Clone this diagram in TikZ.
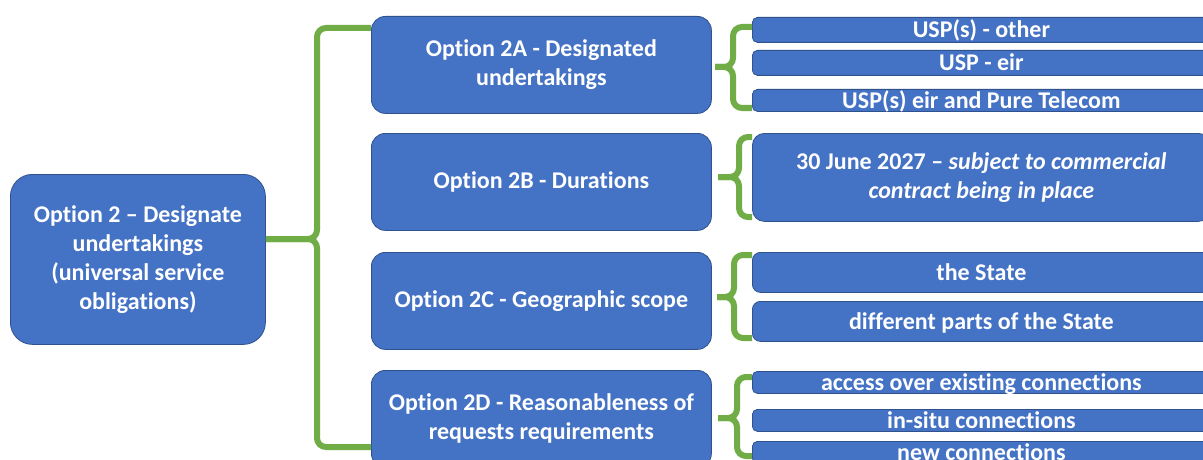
\documentclass[tikz,border=0pt]{standalone}
\usepackage{fontspec}
\setmainfont{Carlito}[Ligatures=NoCommon]
\usetikzlibrary{calc}
\definecolor{boxblue}{HTML}{4472C4}
\definecolor{boxedge}{HTML}{2F528F}
\definecolor{bracegreen}{HTML}{70AD47}
\begin{document}
\begin{tikzpicture}[x=1pt,y=-1pt,
  base/.style={fill=boxblue,draw=boxedge,line width=0.8pt,text=white,
    font=\bfseries\fontsize{24}{29}\selectfont,align=center,inner sep=0pt,anchor=north west},
  mainbox/.style={base,rounded corners=22pt},
  optbox/.style={base,rounded corners=14pt,minimum width=340pt,minimum height=97pt},
  itembox/.style={base,rounded corners=5pt,minimum width=458pt,text height=19pt,text depth=3pt},
  brace/.style={draw=bracegreen,line width=6pt,rounded corners=9pt}]
\clip (0,0) rectangle (1203,460);
\fill[white] (0,0) rectangle (1203,460);

% main box
\node[mainbox,minimum width=255pt,minimum height=170pt] (main) at (10,174)
  {Option 2 – Designate\\undertakings\\(universal service\\obligations)};

% option boxes
\node[optbox] (o2a) at (371,16) {Option 2A - Designated\\undertakings};
\node[optbox] (o2b) at (371,133) {Option 2B - Durations};
\node[optbox] (o2c) at (371,252) {Option 2C - Geographic scope};
\node[optbox] (o2d) at (371,370) {Option 2D - Reasonableness of\\requests requirements};

% item boxes
\node[itembox,minimum height=25pt] (i1) at (752,17) {USP(s) - other};
\node[itembox,minimum height=25pt] (i2) at (752,50) {USP - eir};
\node[itembox,minimum height=22pt] (i3) at (752,89) {USP(s) eir and Pure Telecom};
\node[base,rounded corners=12pt,minimum width=458pt,minimum height=88pt] (i4) at (752,133)
  {30 June 2027 – \textit{subject to commercial}\\\textit{contract being in place}};
\node[itembox,rounded corners=8pt,minimum height=40pt] (i5) at (752,252) {the State};
\node[itembox,rounded corners=8pt,minimum height=40pt] (i6) at (752,301) {different parts of the State};
\node[itembox,minimum height=22pt] (i7) at (752,371) {access over existing connections};
\node[itembox,minimum height=22pt] (i8) at (752,409) {in-situ connections};
\node[itembox,minimum height=22pt] (i9) at (752,441) {new connections};

% big brace
\coordinate (Bc) at (317,239);
\coordinate (Bt) at (371,28);
\coordinate (Bb) at (371,447);
\draw[brace] (main.east |- Bc) -- (Bc) |- (Bt);
\draw[brace] (main.east |- Bc) -- (Bc) |- (Bb);

% brace 2A
\coordinate (At) at (715,67);
\coordinate (Av) at (733,67);
\coordinate (A1) at (752,27);
\coordinate (A2) at (752,108);
\draw[brace] (At) -- (Av) |- (A1);
\draw[brace] (At) -- (Av) |- (A2);

% brace 2B
\coordinate (Ct) at (718,177);
\coordinate (Cv) at (739,177);
\coordinate (C1) at (752,137);
\coordinate (C2) at (752,217);
\draw[brace] (Ct) -- (Cv) |- (C1);
\draw[brace] (Ct) -- (Cv) |- (C2);

% brace 2C
\coordinate (Dt) at (717,297);
\coordinate (Dv) at (734,297);
\coordinate (D1) at (752,255);
\coordinate (D2) at (752,338);
\draw[brace] (Dt) -- (Dv) |- (D1);
\draw[brace] (Dt) -- (Dv) |- (D2);

% brace 2D
\coordinate (Et) at (718,418);
\coordinate (Ev) at (737,418);
\coordinate (E1) at (752,377);
\coordinate (E2) at (752,456);
\draw[brace] (Et) -- (Ev) |- (E1);
\draw[brace] (Et) -- (Ev) |- (E2);
\end{tikzpicture}
\end{document}
